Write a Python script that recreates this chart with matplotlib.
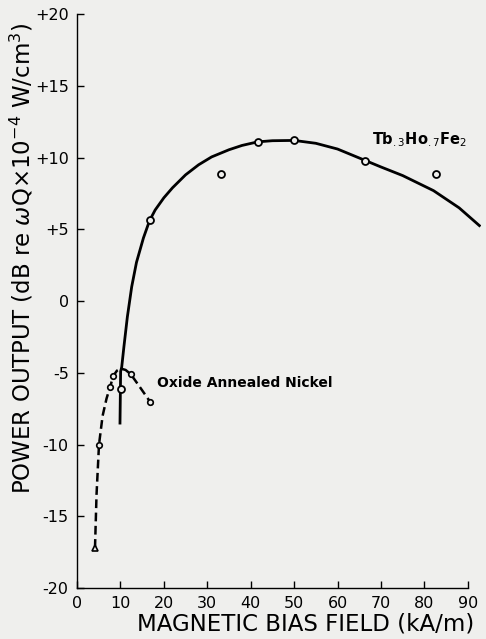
import matplotlib
matplotlib.use("Agg")
import matplotlib.pyplot as plt

# Tb.3Ho.7Fe2 measured points
tb_x = [10.05, 16.7, 33.2, 41.6, 49.9, 66.4, 82.7]
tb_y = [-6.15, 5.64, 8.83, 11.1, 11.2, 9.8, 8.85]

# Tb.3Ho.7Fe2 hand-drawn curve
tb_curve_x = [9.9, 10.05, 10.3, 10.8, 11.6, 12.6, 13.7, 15.3, 16.7, 18.0, 20.0,
              22.0, 25.0, 28.0, 31.0, 35.0, 38.0, 41.6, 45.0, 50.0, 55.0, 60.0,
              66.4, 70.0, 75.0, 82.1, 88.0, 92.9]
tb_curve_y = [-8.6, -4.9, -4.6, -3.2, -1.1, 1.0, 2.7, 4.4, 5.6, 6.35, 7.2,
              7.9, 8.8, 9.5, 10.05, 10.55, 10.85, 11.1, 11.18, 11.2, 11.0, 10.6,
              9.8, 9.35, 8.75, 7.7, 6.5, 5.2]

# Oxide annealed nickel curve and points
ni_curve_x = [4.15, 4.5, 5.07, 5.9, 6.8, 7.6, 8.4, 9.2, 10.05, 11.2, 12.4, 14.5, 16.8, 18.0]
ni_curve_y = [-17.2, -13.5, -10.0, -8.0, -6.8, -6.0, -5.2, -4.85, -4.7, -4.8, -5.1, -6.0, -7.0, -7.4]
ni_pts_x = [5.07, 7.6, 8.4, 12.4, 16.8]
ni_pts_y = [-10.0, -6.0, -5.2, -5.1, -7.0]
ni_tri_x = [4.15]
ni_tri_y = [-17.2]

xticks = [0, 10, 20, 30, 40, 50, 60, 70, 80, 90]
xticklabels = ['0', '10', '20', '30', '40', '50', '60', '70', '80', '90']
yticks = [-20, -15, -10, -5, 0, 5, 10, 15, 20]
yticklabels = ['-20', '-15', '-10', '-5', '0', '+5', '+10', '+15', '+20']

bg = '#efefed'
fig = plt.figure(figsize=(4.86, 6.39), dpi=100, facecolor=bg)
ax = fig.add_axes([0.1584, 0.0798, 0.831, 0.898])
ax.set_facecolor(bg)

ax.plot(tb_curve_x, tb_curve_y, color='black', lw=2.0, solid_capstyle='butt',
        solid_joinstyle='round')
ax.plot(ni_curve_x, ni_curve_y, color='black', lw=1.8, linestyle=(0, (3.5, 1.8)))
ax.plot(ni_pts_x, ni_pts_y, linestyle='none', marker='o', ms=4, mfc=bg,
        mec='black', mew=1.2)
ax.plot(ni_tri_x, ni_tri_y, linestyle='none', marker='^', ms=5, mfc=bg,
        mec='black', mew=1.2)
ax.plot(tb_x, tb_y, linestyle='none', marker='o', ms=5, mfc=bg,
        mec='black', mew=1.3)

ax.text(18.4, -5.7, 'Oxide Annealed Nickel', fontsize=10, fontweight='bold',
        va='center', ha='left')
ax.text(68, 10.9, r'Tb$_{.3}$Ho$_{.7}$Fe$_2$', fontsize=10.5, fontweight='bold',
        va='baseline', ha='left')

ax.set_xlim(0, 93)
ax.set_ylim(-20, 20)
ax.spines['top'].set_visible(False)
ax.spines['right'].set_visible(False)
ax.spines['bottom'].set_bounds(0, 90)
ax.spines['left'].set_linewidth(1.0)
ax.spines['bottom'].set_linewidth(1.0)
ax.set_xticks(xticks)
ax.set_xticklabels(xticklabels)
ax.set_yticks(yticks)
ax.set_yticklabels(yticklabels)
ax.tick_params(direction='in', length=5, width=1, labelsize=11.5, pad=6)

ax.set_xlabel('MAGNETIC BIAS FIELD (kA/m)', fontsize=16.5)
ax.xaxis.set_label_coords(0.565, -0.043)
ax.set_ylabel(r'POWER OUTPUT (dB re $\omega$Q$\times$10$^{-4}$ W/cm$^3$)',
              fontsize=16.5)
ax.yaxis.set_label_coords(-0.137, 0.575)
ax.yaxis.label.set_va('center')

fig.savefig('out.png', dpi=100, facecolor=bg)
